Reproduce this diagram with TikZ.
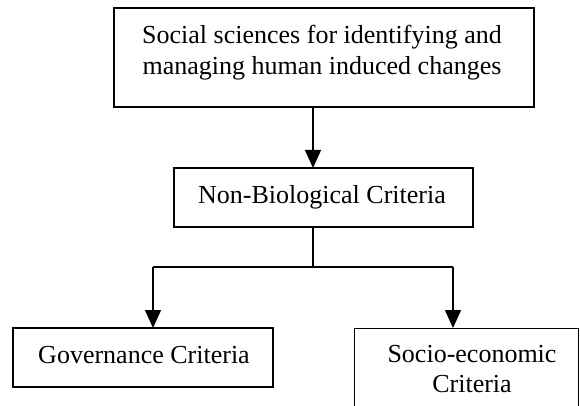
\documentclass[tikz,border=0pt]{standalone}
\usepackage{fontspec}
\setmainfont{Liberation Serif}
\usetikzlibrary{arrows.meta}
\begin{document}
\begin{tikzpicture}[x=1pt,y=-1pt,
  box/.style={draw, line width=1.3pt, rectangle, inner sep=0pt},
  label text/.style={inner sep=0pt, anchor=base, font=\fontsize{26}{30}\selectfont},
  link/.style={line width=1.3pt},
  arrowlink/.style={link, -{Triangle[width=16pt,length=18pt]}}]
\clip (0,0) rectangle (580,406);
\fill[white] (0,0) rectangle (580,406);

% boxes
\node[box, minimum width=420pt, minimum height=99pt] (top) at (324,57.5) {};
\node[box, minimum width=299pt, minimum height=59pt] (mid) at (323.5,197.5) {};
\node[box, minimum width=260pt, minimum height=59pt] (gov) at (143,357.5) {};
\node[box, minimum width=224pt, minimum height=110pt, anchor=north west] (soc) at (354,328) {};

% box texts, one node per printed line, placed on their baselines
\node[label text] (toptexta) at (322,44) {Social sciences for identifying and};
\node[label text] (toptextb) at (322,75) {managing human induced changes};
\node[label text] (midtext) at (322,203) {Non-Biological Criteria};
\node[label text] (govtext) at (144,363) {Governance Criteria};
\node[label text] (soctexta) at (472,362) {Socio-economic};
\node[label text] (soctextb) at (472,392) {Criteria};

% connector waypoints
\coordinate (topout) at (313,107);
\coordinate (midin) at (313,168);
\coordinate (midout) at (313,227);
\coordinate (split) at (313,267);
\coordinate (leftturn) at (153,267);
\coordinate (rightturn) at (453,267);
\coordinate (govin) at (153,328);
\coordinate (socin) at (453,328);

\draw[arrowlink] (topout) -- (midin);
\draw[link] (midout) -- (split);
\draw[link] (leftturn) -- (rightturn);
\draw[arrowlink] (leftturn) -- (govin);
\draw[arrowlink] (rightturn) -- (socin);
\end{tikzpicture}
\end{document}
